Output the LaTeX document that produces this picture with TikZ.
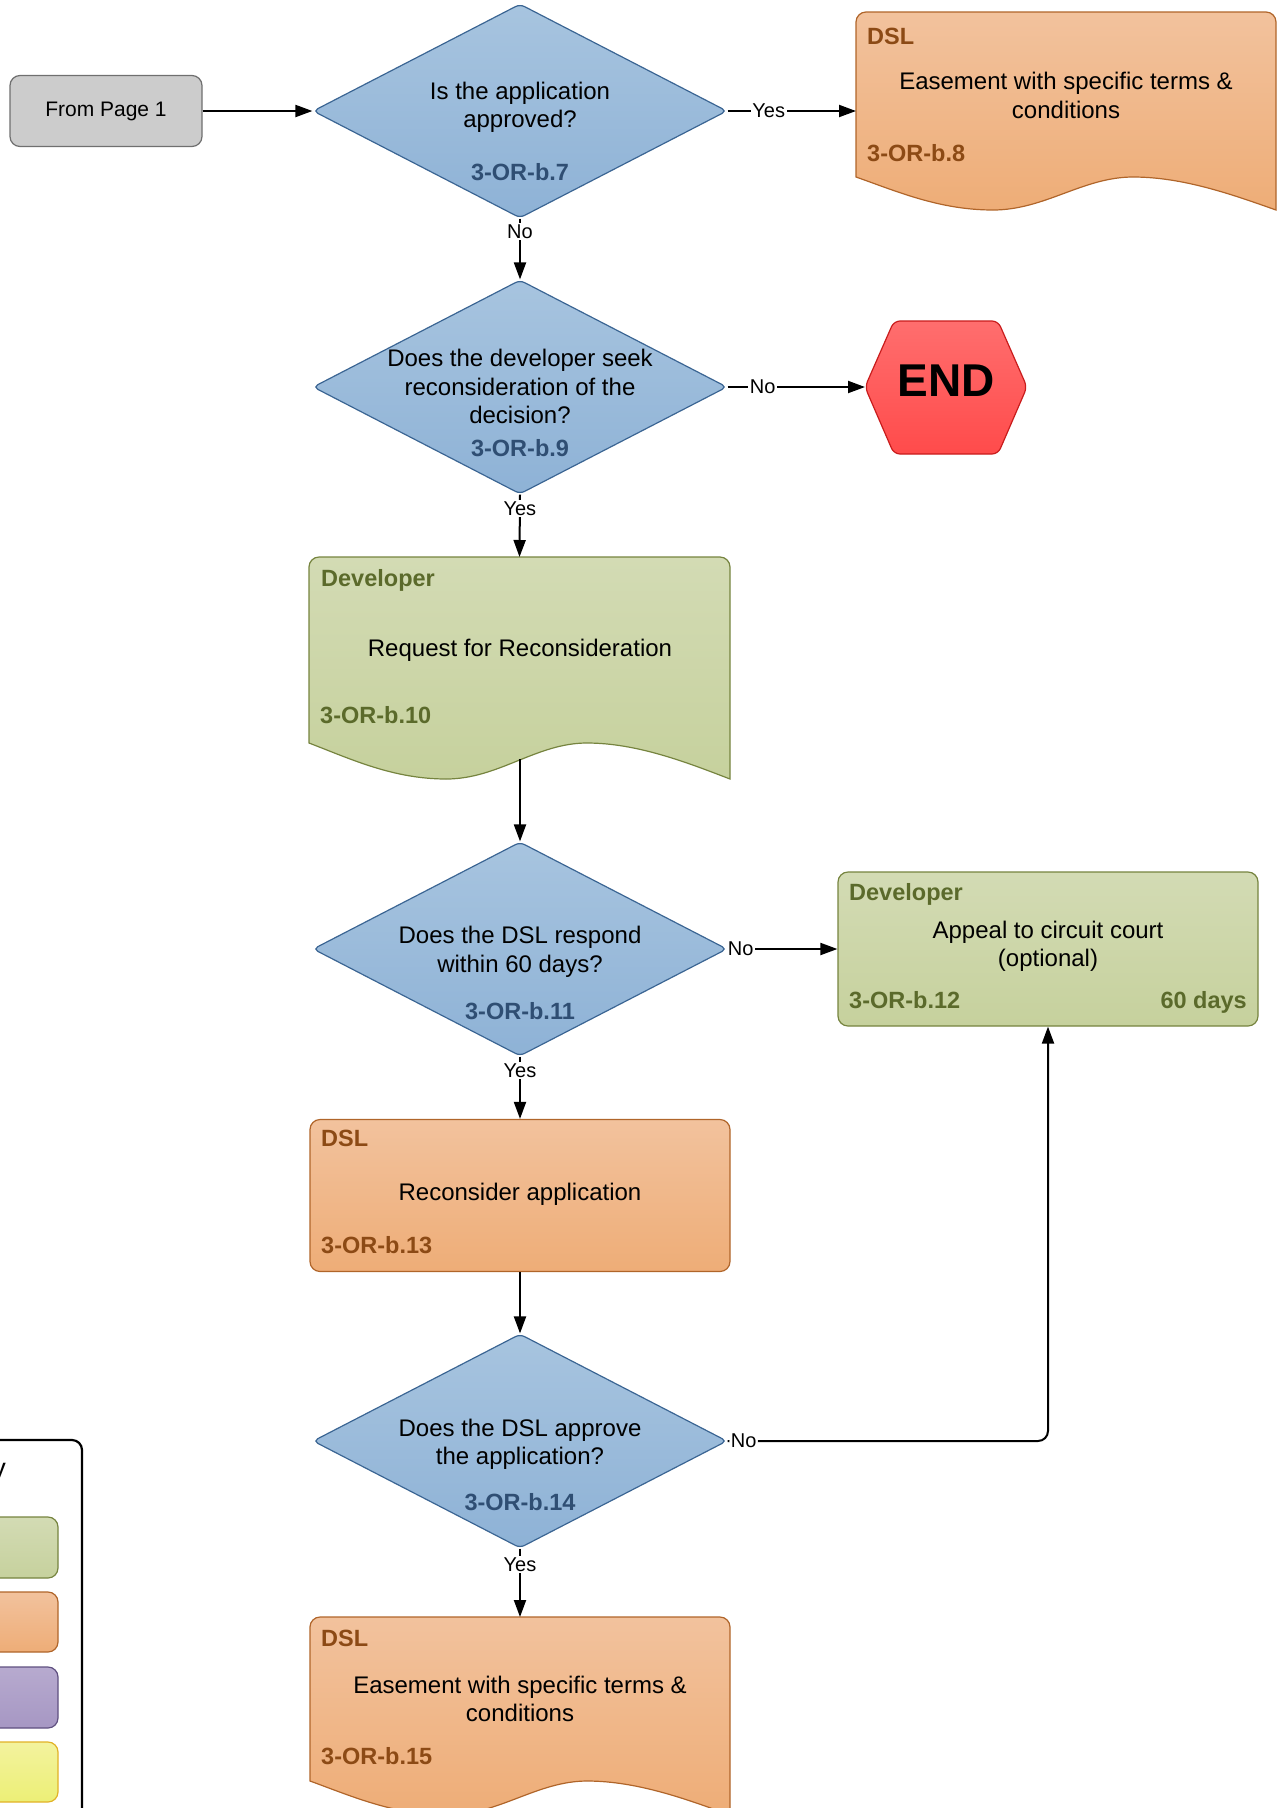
\documentclass[tikz,border=0pt]{standalone}
\usepackage{fontspec}
\setmainfont{Liberation Sans}
\usetikzlibrary{arrows.meta,shapes.geometric}
\definecolor{diaTop}{HTML}{A7C4DF}
\definecolor{diaBot}{HTML}{8EB2D6}
\definecolor{diaLine}{HTML}{3B6593}
\definecolor{diaId}{HTML}{2F4E73}
\definecolor{grnTop}{HTML}{D3DBB4}
\definecolor{grnBot}{HTML}{C6D19D}
\definecolor{grnLine}{HTML}{76843F}
\definecolor{grnTxt}{HTML}{5B6A2B}
\definecolor{orgTop}{HTML}{F2C29D}
\definecolor{orgBot}{HTML}{EEAD77}
\definecolor{orgLine}{HTML}{B0652A}
\definecolor{orgTxt}{HTML}{8C4A15}
\definecolor{gryFill}{HTML}{CCCCCC}
\definecolor{gryLine}{HTML}{6F6F6F}
\definecolor{stopTop}{HTML}{FF6E6E}
\definecolor{stopBot}{HTML}{FF4B4B}
\definecolor{stopLine}{HTML}{C91C1C}
\definecolor{purTop}{HTML}{B7AACF}
\definecolor{purBot}{HTML}{A697C3}
\definecolor{purLine}{HTML}{5F5080}
\definecolor{yelTop}{HTML}{F3F39E}
\definecolor{yelBot}{HTML}{ECEF76}
\definecolor{yelLine}{HTML}{E2B227}
\newcommand\mainsz{\fontsize{24pt}{28.5pt}\selectfont}
\newcommand\boldsz{\fontsize{23.5pt}{28pt}\selectfont\bfseries}
\newcommand\lblsz{\fontsize{20pt}{24pt}\selectfont}
\newcommand\fromsz{\fontsize{21pt}{25pt}\selectfont}
\newcommand\stopsz{\fontsize{46pt}{50pt}\selectfont\bfseries}
\newcommand\keysz{\fontsize{27pt}{30pt}\selectfont}
% document shape: x, top, width, straight height, wave depth, style
\newcommand\docshape[6]{%
  \path[#6] (#1,{#2+#4}) -- (#1,{#2+10}) arc[start angle=180,end angle=270,radius=10]
    -- ({#1+#3-10},#2) arc[start angle=270,end angle=360,radius=10]
    -- ({#1+#3},{#2+#4+#5})
    .. controls ({#1+0.9*#3},{#2+#4+0.55*#5}) and ({#1+0.78*#3},{#2+#4}) .. ({#1+0.66*#3},{#2+#4})
    .. controls ({#1+0.54*#3},{#2+#4}) and ({#1+0.45*#3},{#2+#4+#5}) .. ({#1+0.326*#3},{#2+#4+#5})
    .. controls ({#1+0.2*#3},{#2+#4+#5}) and ({#1+0.1*#3},{#2+#4+0.45*#5}) .. (#1,{#2+#4}) -- cycle;}
\begin{document}
\begin{tikzpicture}[x=1pt,y=-1pt]
\tikzset{
  conn/.style={draw=black, line width=2pt, -{Triangle[length=17pt,width=12pt]}},
  lbl/.style={font=\lblsz, fill=white, inner sep=1.5pt, text=black},
  dia/.style={shape=diamond, minimum width=414pt, minimum height=214pt, inner sep=0pt,
    draw=diaLine, line width=1.2pt, top color=diaTop, bottom color=diaBot, rounded corners=5pt},
  maintxt/.style={font=\mainsz, align=center, inner sep=0pt},
  idtxt/.style={font=\boldsz, text=diaId, inner sep=0pt},
  hdrO/.style={font=\boldsz, text=orgTxt, inner sep=0pt, anchor=west},
  hdrG/.style={font=\boldsz, text=grnTxt, inner sep=0pt, anchor=west},
  rbox/.style={rounded corners=10pt, line width=1.2pt, inner sep=0pt},
  grnbox/.style={rbox, draw=grnLine, top color=grnTop, bottom color=grnBot},
  orgbox/.style={rbox, draw=orgLine, top color=orgTop, bottom color=orgBot},
  grnshape/.style={draw=grnLine, line width=1.2pt, top color=grnTop, bottom color=grnBot},
  orgshape/.style={draw=orgLine, line width=1.2pt, top color=orgTop, bottom color=orgBot},
  anchorbox/.style={draw=none, fill=none, inner sep=0pt, outer sep=0pt},
  swatch/.style={rounded corners=10pt, line width=1.2pt},
}
\useasboundingbox (0,0) rectangle (1284,1808);
\clip (0,0) rectangle (1284,1808);

% From page 1
\node[rbox, draw=gryLine, fill=gryFill, minimum width=192pt, minimum height=71pt, font=\fromsz] (from) at (106,111) {From Page 1};

% Decision 1
\node[dia] (d1) at (520,111) {};
\node[maintxt] (d1t) at (520,107.5) {Is the application\\approved?};
\node[idtxt] (d1id) at (520,172) {3-OR-b.7};

% DSL document 1
\docshape{856}{12}{420}{165}{33}{orgshape}
\node[anchorbox, minimum width=420pt, minimum height=198pt] (dsl1) at (1066,111) {};
\node[hdrO] (dsl1h) at (867,36) {DSL};
\node[maintxt] (dsl1t) at (1066,95.5) {Easement with specific terms \&\\conditions};
\node[hdrO] (dsl1id) at (867,153) {3-OR-b.8};

% Decision 2
\node[dia] (d2) at (520,387) {};
\node[maintxt] (d2t) at (520,386.5) {Does the developer seek\\reconsideration of the\\decision?};
\node[idtxt] (d2id) at (520,448) {3-OR-b.9};

% END
\path[draw=stopLine, line width=1.2pt, top color=stopTop, bottom color=stopBot, rounded corners=6pt]
  (865,387) -- (894,321) -- (998,321) -- (1027,387) -- (998,454) -- (894,454) -- cycle;
\node[anchorbox, minimum width=162pt, minimum height=133pt] (endn) at (946,387) {};
\node[font=\stopsz, inner sep=0pt] (endt) at (946,381) {END};

% Request document
\docshape{309}{557}{421}{186}{36}{grnshape}
\node[anchorbox, minimum width=421pt, minimum height=222pt] (req) at (519.5,668) {};
\coordinate (reqout) at (520,759);
\node[hdrG] (reqh) at (321,580.5) {Developer};
\node[maintxt] (reqt) at (520,650.5) {Request for Reconsideration};
\node[hdrG] (reqid) at (320,715) {3-OR-b.10};

% Decision 3
\node[dia] (d3) at (520,949) {};
\node[maintxt] (d3t) at (520,952) {Does the DSL respond\\within 60 days?};
\node[idtxt] (d3id) at (520,1011) {3-OR-b.11};

% Appeal
\node[grnbox, minimum width=420pt, minimum height=154pt] (app) at (1048,949) {};
\node[hdrG] (apph) at (849,894.5) {Developer};
\node[maintxt] (appt) at (1048,946.5) {Appeal to circuit court\\(optional)};
\node[hdrG] (appid) at (849,1000) {3-OR-b.12};
\node[font=\boldsz, text=grnTxt, inner sep=0pt, anchor=east] (appdays) at (1247,1002.5) {60 days};

% Reconsider
\node[orgbox, minimum width=420pt, minimum height=152pt] (rec) at (520,1195.5) {};
\node[hdrO] (rech) at (321,1138) {DSL};
\node[maintxt] (rect) at (520,1194) {Reconsider application};
\node[hdrO] (recid) at (321,1245.5) {3-OR-b.13};

% Decision 4
\node[dia] (d4) at (520,1441) {};
\node[maintxt] (d4t) at (520,1444.5) {Does the DSL approve\\the application?};
\node[idtxt] (d4id) at (520,1502) {3-OR-b.14};

% DSL document 2
\docshape{310}{1617}{420}{164}{34}{orgshape}
\node[anchorbox, minimum width=420pt, minimum height=198pt] (dsl2) at (520,1716) {};
\node[hdrO] (dsl2h) at (321,1638) {DSL};
\node[maintxt] (dsl2t) at (520,1699) {Easement with specific terms \&\\conditions};
\node[hdrO] (dsl2id) at (321,1756) {3-OR-b.15};

% Legend (cut off at the left edge)
\draw[line width=2.2pt, rounded corners=10pt] (-30,1440) -- (82,1440) -- (82,1840);
\node[font=\keysz, anchor=base east, inner sep=0pt] (keyt) at (6,1477) {Key};
\path[swatch, draw=grnLine, top color=grnTop, bottom color=grnBot] (-30,1517) rectangle (58,1578);
\path[swatch, draw=orgLine, top color=orgTop, bottom color=orgBot] (-30,1592) rectangle (58,1652);
\path[swatch, draw=purLine, top color=purTop, bottom color=purBot] (-30,1667) rectangle (58,1728);
\path[swatch, draw=yelLine, top color=yelTop, bottom color=yelBot] (-30,1742) rectangle (58,1802);

% Connectors
\draw[conn] (from.east) -- (d1.west);
\draw[conn] (d1.east) -- node[lbl, pos=0.32] (l1) {Yes} (dsl1.west);
\draw[conn] (d1.south) -- node[lbl, pos=0.21] (l2) {No} (d2.north);
\draw[conn] (d2.east) -- node[lbl, pos=0.255] (l3) {No} (endn.west);
\draw[conn] (d2.south) -- node[lbl, pos=0.23] (l4) {Yes} (req.north);
\draw[conn] (reqout) -- (d3.north);
\draw[conn] (d3.east) -- node[lbl, pos=0.12] (l5) {No} (app.west);
\draw[conn] (d3.south) -- node[lbl, pos=0.23] (l6) {Yes} (rec.north);
\draw[conn] (rec.south) -- (d4.north);
\draw[conn, rounded corners=10pt] (d4.east) -- node[lbl, pos=0.05] (l7) {No} (app.south |- d4.east) -- (app.south);
\draw[conn] (d4.south) -- node[lbl, pos=0.23] (l8) {Yes} (dsl2.north);
\end{tikzpicture}
\end{document}
